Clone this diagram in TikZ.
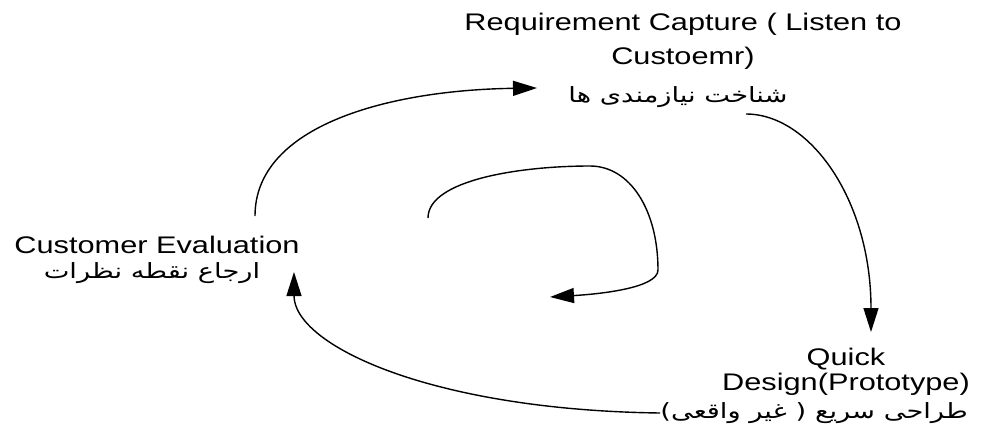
\documentclass[tikz,border=0pt]{standalone}
\usepackage{fontspec}
\setmainfont{Liberation Sans}
\newfontfamily\arabicfont[Script=Arabic]{DejaVu Sans}
\usetikzlibrary{arrows.meta}
\TeXXeTstate=1
\newcommand{\wide}[1]{\scalebox{1.28}[1]{#1}}
\newcommand{\widefa}[1]{\scalebox{1.3}[1]{#1}}
\tikzset{
  label text/.style={inner sep=0pt, font=\fontsize{24}{28}\selectfont},
  farsi/.style={inner sep=0pt, font=\arabicfont\fontsize{21}{25}\selectfont},
  flow/.style={line width=1.4pt, -{Triangle[length=24pt,width=15pt]}},
  plain/.style={line width=1.4pt}
}
\begin{document}
\begin{tikzpicture}[x=1pt,y=-1pt]
\useasboundingbox (0,0) rectangle (986,440);

% stage labels
\node[label text] (req1) at (683,24) {\wide{Requirement Capture ( Listen to}};
\node[label text] (req2) at (683,58) {\wide{Custoemr)}};
\node[farsi] (reqfa) at (678,97) {\widefa{\beginR شناخت نیازمندی ها\endR}};

\node[label text] (eval) at (157,245) {\wide{Customer Evaluation}};
\node[farsi] (evalfa) at (152,273) {\widefa{\beginR ارجاع نقطه نظرات\endR}};

\node[label text] (quick1) at (846,359) {\wide{Quick}};
\node[label text] (quick2) at (846,384) {\wide{Design(Prototype)}};
\node[farsi, anchor=east] (quickfa) at (968,413) {\widefa{\beginR طراحی سریع ( غیر واقعی)\endR}};

% arrow end points
\coordinate (e1s) at (255,216);
\coordinate (e1t) at (537,88);
\coordinate (e2s) at (746,114);
\coordinate (e2t) at (871,332);
\coordinate (e3t) at (294,272);
\coordinate (c1) at (428,218);
\coordinate (c2) at (590,166);
\coordinate (c3) at (658,270);
\coordinate (c4) at (550,297);

% outer cycle
\draw[flow] (e1s) .. controls (255,125) and (390,90) .. (e1t);
\draw[flow] (e2s) .. controls (810,114) and (871,200) .. (e2t);
\draw[flow] (quickfa.west) .. controls (430,410) and (294,345) .. (e3t);

% inner loop
\draw[plain] (c1) .. controls (428,180) and (520,166) .. (c2)
  .. controls (630,166) and (658,210) .. (c3);
\draw[flow] (c3) .. controls (658,288) and (600,294) .. (c4);
\end{tikzpicture}
\end{document}
